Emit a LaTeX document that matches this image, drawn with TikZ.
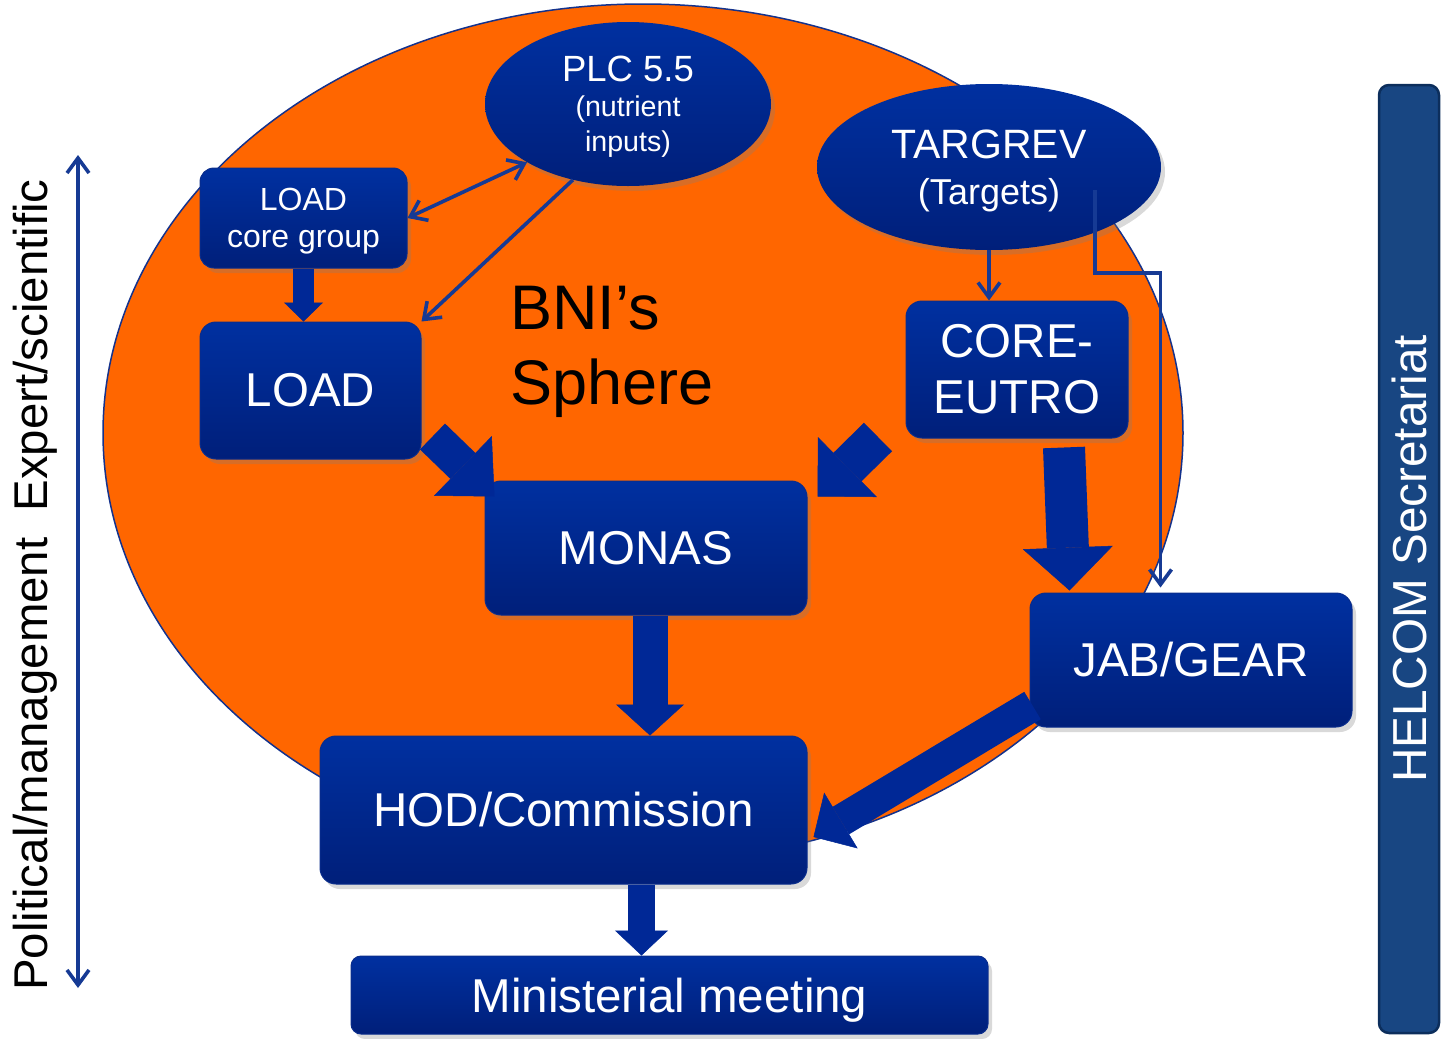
\documentclass[tikz,border=0pt]{standalone}
\usepackage{fontspec}
\setmainfont{Liberation Sans}
\usetikzlibrary{arrows.meta,calc,shadows,shapes.geometric}
\definecolor{sphere}{RGB}{255,102,0}
\definecolor{sphereedge}{RGB}{20,50,140}
\definecolor{boxtop}{RGB}{0,48,160}
\definecolor{boxbot}{RGB}{0,31,122}
\definecolor{boxedge}{RGB}{10,45,140}
\definecolor{arrowblue}{RGB}{0,40,150}
\definecolor{lineblue}{RGB}{22,58,148}
\definecolor{helcom}{RGB}{24,70,130}
\definecolor{helcomedge}{RGB}{12,46,92}
\begin{document}
\begin{tikzpicture}[x=1pt, y=-1pt, >={Straight Barb[length=15pt,width=22pt]},
    box/.style={rectangle, rounded corners=16pt, top color=boxtop, bottom color=boxbot, draw=boxedge, line width=1pt, text=white, align=center, inner sep=0pt, font=\fontsize{47.5}{56}\selectfont, drop shadow={shadow xshift=4pt, shadow yshift=-5pt, opacity=0.3}},
    oval/.style={ellipse, top color=boxtop, bottom color=boxbot, text=white, align=center, inner sep=0pt, text depth=0pt, drop shadow={shadow xshift=4pt, shadow yshift=-5pt, opacity=0.3}},
    fat/.style n args={3}{arrowblue, line width=#1, -{Triangle[length=#2, width=#3, line width=0.5pt]}},
    link/.style={lineblue, line width=3.6pt}]
	\useasboundingbox (0,0) rectangle (1441,1039);
	\draw[draw=sphereedge, fill=sphere, line width=1.5pt] (643,433) ellipse [x radius=540pt, y radius=429pt];
	\node[rotate=90, font=\fontsize{47.4}{56}\selectfont, inner sep=0pt] (axis) at (35,585) {Political/management\ \ Expert/scientific};
	\coordinate (upper) at (78,155);
	\coordinate (lower) at (78,988);
	\draw[link, <->] (lower) -- (upper);
	\node[rectangle, rotate=90, rounded corners=10pt, fill=helcom, draw=helcomedge, line width=2.5pt, minimum width=948pt, minimum height=60pt, text=white, font=\fontsize{47.7}{56}\selectfont] (helcom) at (1409,559) {HELCOM Secretariat};
	\node[oval, minimum width=286pt, minimum height=164pt, font=\fontsize{28.6}{35}\selectfont] (plc) at (628,104) {{\fontsize{36.5}{35}\selectfont PLC 5.5}\\(nutrient\\inputs)};
	\node[oval, minimum width=344pt, minimum height=166pt, font=\fontsize{36}{46}\selectfont] (targrev) at (989,167) {{\fontsize{41}{46}\selectfont TARGREV}\\(Targets)};
	\node[box, rounded corners=14pt, minimum width=207pt, minimum height=100pt, font=\fontsize{32}{37}\selectfont, text depth=0pt] (loadcg) at (303.5,218) {LOAD\\core group};
	\node[box, minimum width=221pt, minimum height=137pt] (load) at (310.5,390.5) {LOAD};
	\node[font=\fontsize{63}{75}\selectfont, align=left, anchor=west, inner sep=0pt] (bni) at (510,352) {BNI’s\\Sphere};
	\node[box, minimum width=222pt, minimum height=137pt] (coreeutro) at (1017,369.5) {CORE-\\EUTRO};
	\node[box, minimum width=322pt, minimum height=134pt] (monas) at (646,548) {MONAS};
	\node[box, minimum width=322pt, minimum height=134pt] (jabgear) at (1191,660) {JAB/GEAR};
	\node[box, minimum width=487pt, minimum height=148pt] (hod) at (563.5,810) {HOD/Commission};
	\node[box, rounded corners=10pt, minimum width=637pt, minimum height=78pt, text depth=0pt] (minist) at (669.5,995) {Ministerial meeting};
	\draw[link, <->] (loadcg.east) -- (plc.-150);
	\draw[link, ->] (plc.-126) -- (load.north east);
	\draw[link, ->] (targrev.south) -- (targrev.south |- coreeutro.north);
	\coordinate (tg) at ($(targrev.center)+(106,23)$);
	\draw[link, ->] (tg) -- ++(0,83) -| ($(jabgear.north west)+(131,-5)$);
	\coordinate (free) at (878,437);
	\draw[fat={21pt}{19pt}{39pt}] (loadcg.south) -- (loadcg.south |- load.north);
	\draw[fat={36pt}{44pt}{83pt}] ($(load.south east)+(11,-23)$) -- ($(monas.north west)+(10,16)$);
	\draw[fat={40pt}{42pt}{84pt}] (free) -- ($(monas.north east)+(10,16)$);
	\draw[fat={35pt}{31pt}{68pt}] ($(monas.south)+(4,0)$) -- ($(monas.south |- hod.north)+(4,0)$);
	\draw[fat={42pt}{43pt}{90pt}] ($(coreeutro.south)+(47,9)$) -- ($(jabgear.north west)+(40,-2)$);
	\draw[fat={32pt}{32pt}{65pt}] ($(jabgear.south west)+(3,-22)$) -- ($(hod.east)+(6,27)$);
	\draw[fat={27pt}{25pt}{53pt}] ($(hod.south)+(78,0)$) -- ($(hod.south |- minist.north)+(78,0)$);
\end{tikzpicture}
\end{document}
